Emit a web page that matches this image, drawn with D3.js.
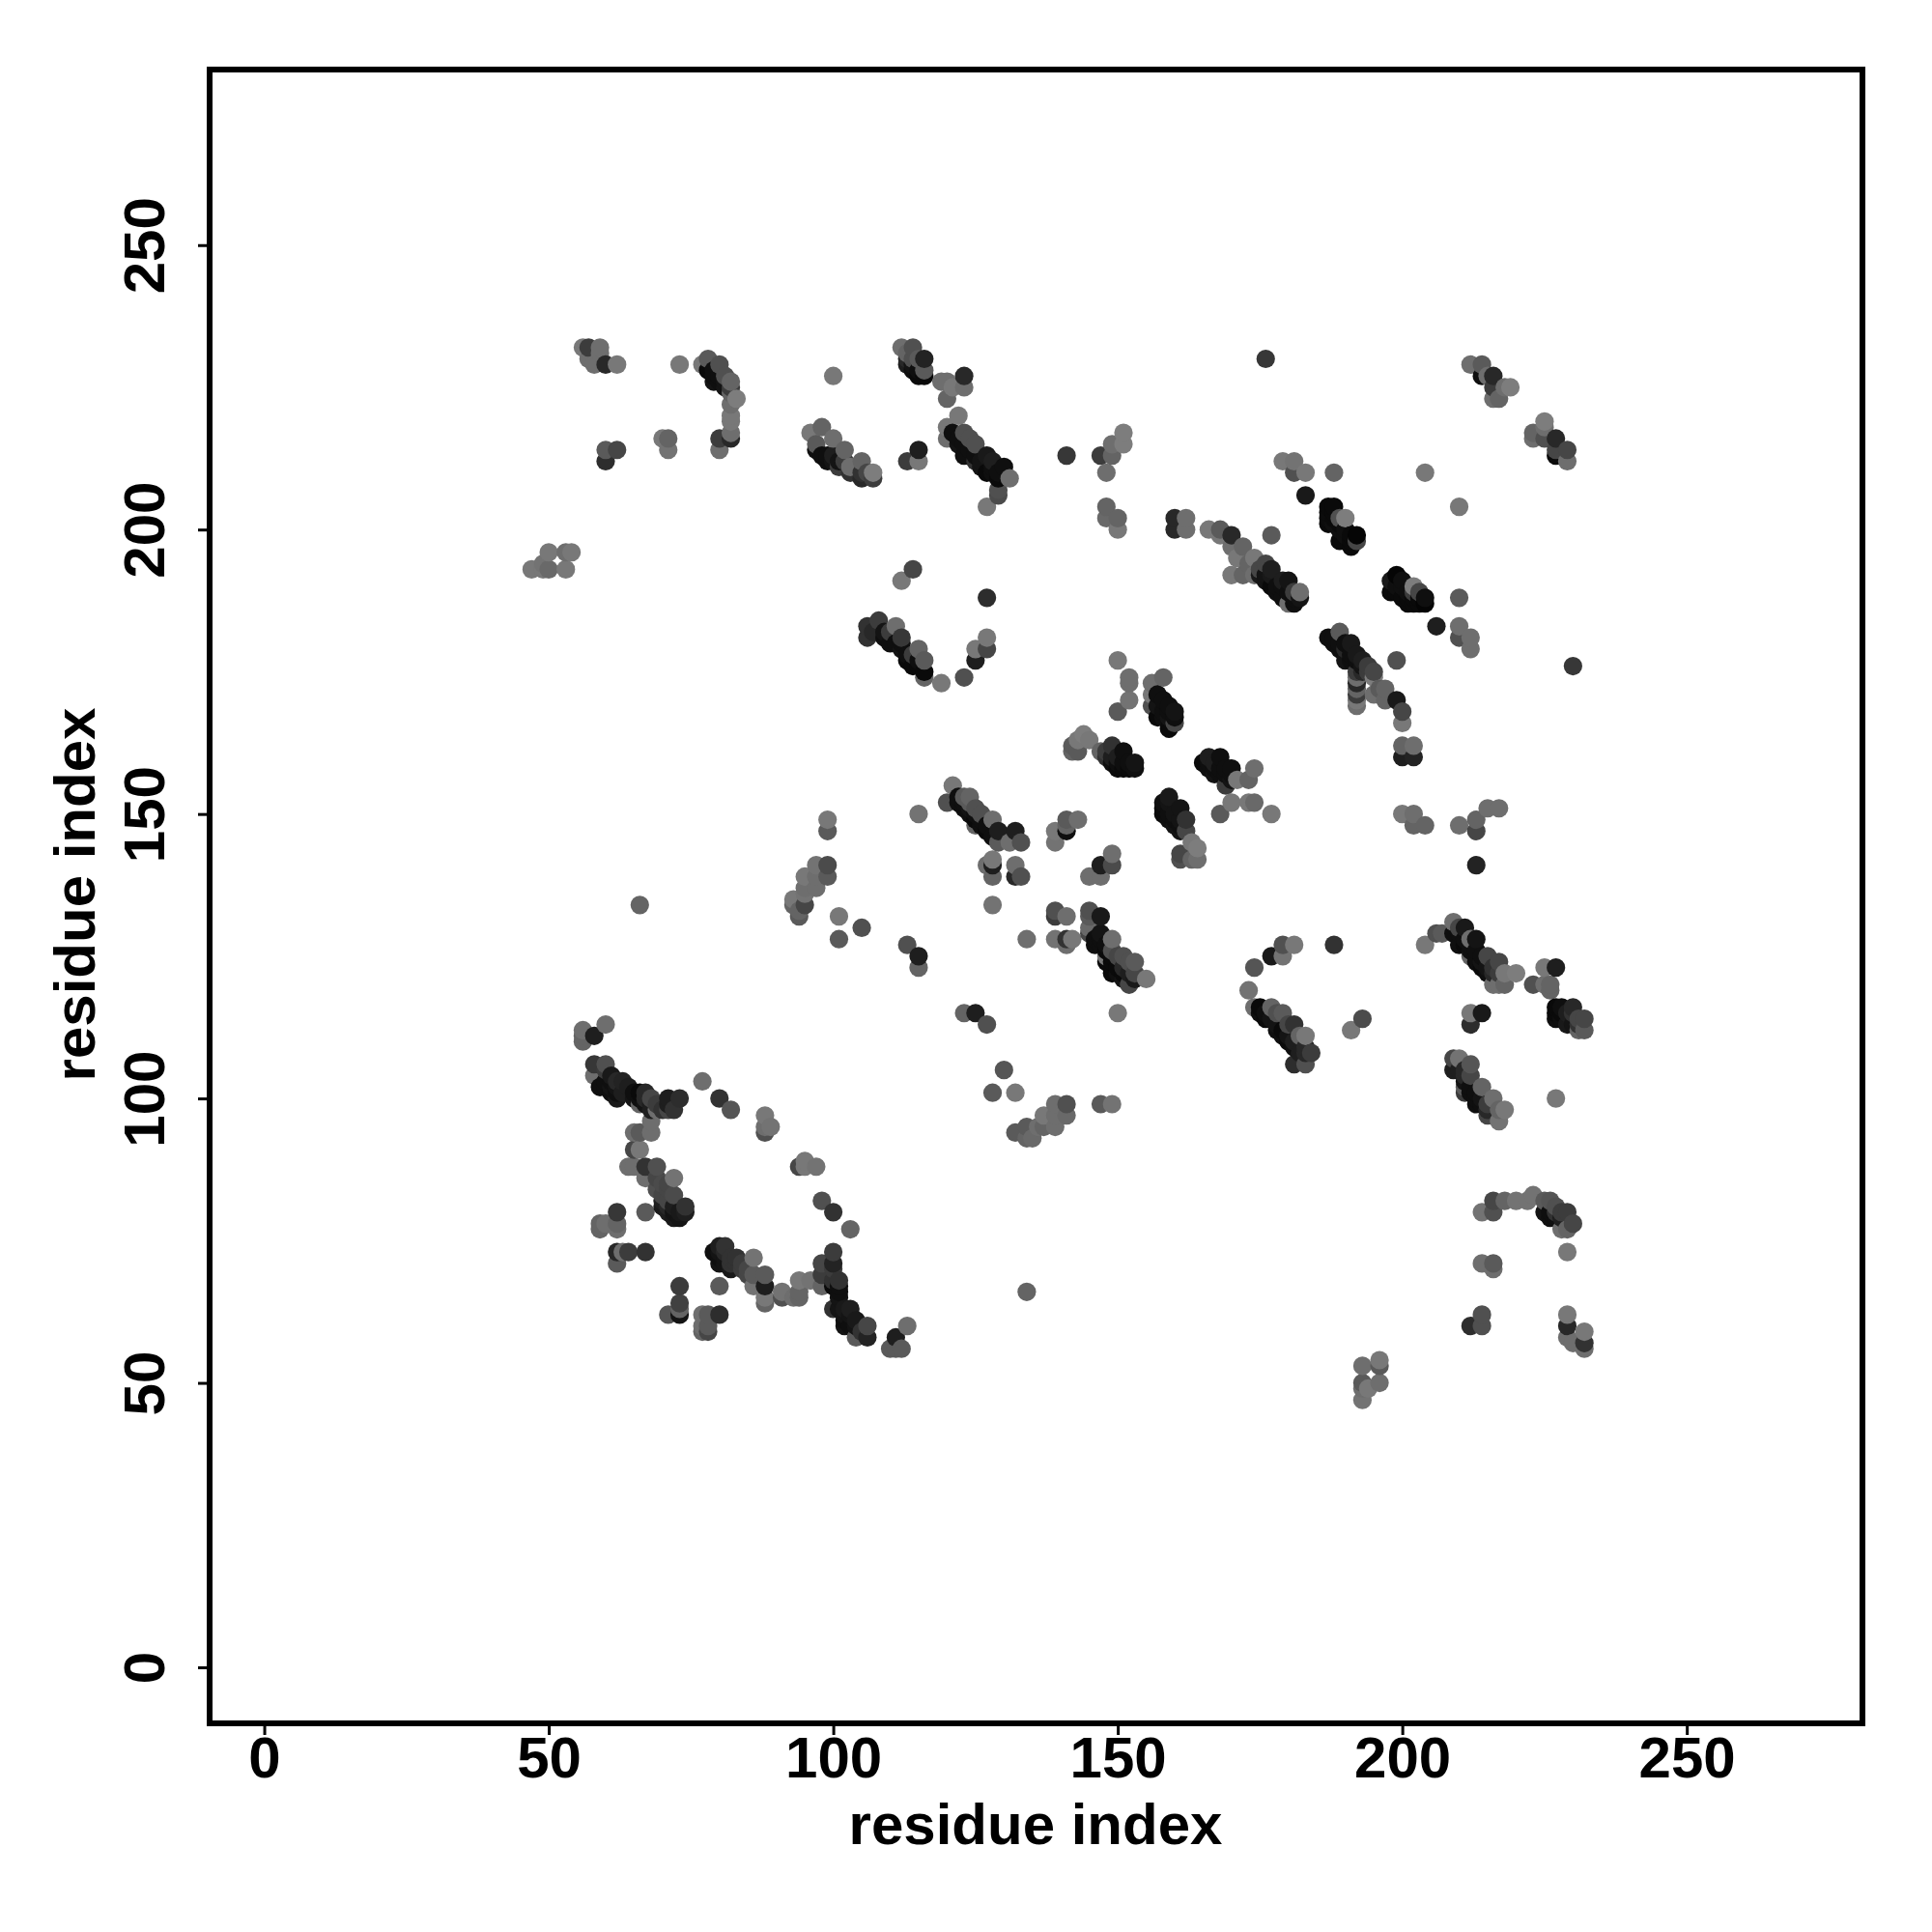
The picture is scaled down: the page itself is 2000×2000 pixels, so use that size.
<!DOCTYPE html>
<html><head><meta charset="utf-8">
<script src="https://cdn.jsdelivr.net/npm/d3@7/dist/d3.min.js"></script>
<style>html,body{margin:0;background:#fff}svg{display:block}</style>
</head><body><svg id="c" width="2000" height="2000"></svg>
<script>
// each contact: [residue i, residue j, grey level]
const tickValues=[0,50,100,150,200,250];
const axisLabel="residue index";
const contactsTopLeft=[[56,232,120],[57,232,60],[59,232,110],[59,231,110],[57,230,110],[58,229,110],[60,229,40],[62,229,120],[73,229,120],[77,229,120],[78,230,90],[80,229,80],[78,228,10],[79,227,15],[80,226,15],[79,226,20],[81,225,20],[81,227,80],[82,226,100],[82,224,100],[83,223,125],[82,222,110],[82,220,120],[82,219,120],[82,217,110],[82,216,40],[80,216,60],[80,214,110],[60,214,90],[62,214,70],[60,212,45],[70,216,120],[71,216,100],[71,214,115],[47,193,120],[49,193,120],[49,194,115],[50,193,105],[50,196,120],[53,193,120],[53,196,110],[54,196,120]];
const contactsTopMiddle=[[100,227,120],[96,217,120],[98,218,100],[97,215,90],[100,216,110],[99,213,15],[100,212,20],[102,214,100],[101,211,60],[103,211,110],[105,212,100],[107,210,125],[105,209,40],[107,209,60],[112,232,110],[114,232,80],[113,231,100],[113,229,30],[116,230,35],[115,227,10],[116,227,10],[116,228,90],[119,226,110],[120,226,110],[123,227,40],[123,225,110],[121,225,120],[120,223,100],[122,220,120],[120,218,120],[120,216,110],[123,217,80],[125,215,80],[122,215,20],[123,213,15],[125,212,50],[127,213,25],[130,211,15],[127,210,10],[129,209,10],[131,209,110],[129,207,80],[129,206,75],[127,204,120],[115,214,30],[113,212,60],[115,212,120],[114,193,70],[112,191,120],[127,188,45],[106,183,50],[108,184,60],[106,181,50],[111,183,110],[110,180,15],[112,181,55],[112,179,20],[115,179,100],[114,176,10],[116,177,90],[116,175,10],[116,174,100],[119,173,120],[123,174,80],[125,177,30],[125,179,120],[127,179,70],[127,181,120]];
const contactsTopRight=[[176,230,55],[141,213,55],[147,213,60],[149,213,100],[149,215,110],[151,215,125],[151,217,125],[148,210,110],[148,204,100],[148,202,105],[150,202,100],[150,200,120],[160,202,40],[160,200,40],[162,202,110],[162,200,110],[166,200,120],[168,200,90],[170,199,40],[168,199,120],[172,197,100],[170,197,110],[171,195,120],[174,195,120],[170,192,120],[172,192,100],[174,192,110],[173,194,100],[176,194,70],[177,193,30],[175,192,25],[177,190,10],[180,191,20],[179,188,15],[182,189,110],[181,187,15],[180,187,110],[182,188,20],[177,199,90],[179,212,120],[181,212,115],[181,210,80],[183,210,120],[188,210,100],[183,206,25],[204,210,120],[210,204,120],[187,204,10],[188,204,10],[187,203,12],[187,202,12],[187,201,10],[189,202,80],[190,202,125],[189,198,10],[192,199,5],[191,197,10],[192,198,70],[198,191,25],[199,192,5],[198,189,10],[201,187,10],[202,190,125],[201,189,15],[204,187,5],[204,188,15],[202,187,10],[210,188,90],[206,183,30],[210,183,110],[210,181,80],[212,181,110],[212,179,110],[199,177,80],[230,176,55],[212,229,110],[214,229,90],[214,227,15],[216,227,40],[215,227,110],[216,225,60],[218,225,110],[219,225,125],[216,223,110],[217,223,100],[223,217,100],[225,219,125],[225,218,110],[223,216,110],[227,216,40],[225,216,80],[227,214,70],[229,214,70],[227,213,10],[229,212,110]];
const contactsCentre=[[150,177,120],[152,174,110],[152,173,110],[152,170,115],[150,168,90],[158,174,100],[156,173,110],[156,171,120],[156,169,80],[158,170,15],[160,168,20],[157,167,10],[159,165,10],[160,166,70],[144,164,125],[143,163,120],[142,162,90],[143,161,90],[145,163,120],[142,161,100],[147,161,100],[149,162,50],[151,161,15],[148,160,50],[150,158,10],[153,159,20],[152,158,10],[165,159,10],[166,160,30],[168,160,15],[167,157,20],[170,158,15],[169,155,60],[174,158,110],[171,156,120],[173,156,100],[170,152,120],[173,152,120],[174,152,105],[177,150,120],[168,150,90],[159,153,25],[158,151,10],[161,151,20],[158,150,10],[162,149,50],[160,148,20],[162,147,70],[163,145,120],[161,143,70],[164,144,125],[163,142,100],[164,142,110],[161,142,80],[200,166,120],[200,168,70],[199,170,25],[197,172,100],[200,162,100],[202,162,110],[200,160,30],[202,160,35],[200,150,120],[202,150,110],[202,148,100],[204,148,100],[210,148,110],[213,149,100],[213,147,70],[215,151,110],[217,151,110],[213,141,35],[189,182,90],[187,181,15],[188,180,15],[191,180,25],[190,177,20],[193,177,30],[194,176,60],[195,174,125],[197,170,100],[195,171,110],[192,175,60],[192,174,110],[192,173,40],[192,172,100],[192,171,60],[192,170,120],[192,169,110],[193,176,20]];
const contactsMiddle=[[121,155,120],[120,152,80],[122,153,15],[124,153,100],[123,151,15],[125,151,80],[125,149,10],[128,149,110],[127,147,10],[129,147,30],[132,147,30],[129,145,90],[131,145,110],[133,145,80],[125,148,100],[115,150,115],[99,149,120],[99,147,90],[128,142,120],[127,141,110],[128,141,30],[128,139,100],[132,141,110],[132,139,40],[133,139,80],[128,134,115],[141,149,90],[143,149,110],[139,147,120],[141,147,15],[141,148,100],[139,145,115],[149,143,110],[149,141,75],[147,141,30],[147,139,110],[145,139,110],[97,141,115],[99,141,75],[99,139,90],[97,139,110],[95,139,120],[97,137,110],[95,137,110],[95,136,115],[93,135,120],[93,134,100],[95,134,70],[94,132,90],[94,133,100],[66,134,100],[101,132,120],[105,130,80],[101,128,90],[113,127,80],[115,125,30],[115,123,100],[123,115,100],[125,115,30],[127,113,80],[130,105,85],[128,101,90],[132,101,120],[150,115,120],[134,128,110],[139,133,80],[139,132,60],[141,132,110],[139,128,115],[141,128,50],[142,128,120],[141,127,110],[145,133,80],[145,132,90],[147,132,25],[145,130,105],[145,129,70],[147,129,20],[149,128,110],[147,127,15],[148,125,120],[149,125,10],[151,125,80],[149,122,10],[153,124,90],[151,122,10],[155,121,120],[152,120,70],[153,121,25],[147,99,90],[149,99,115],[141,99,80],[139,99,110],[141,97,105],[139,97,110],[137,97,120],[139,95,110],[137,95,100],[136,95,110],[134,95,90],[132,94,90],[134,93,100],[135,93,105],[134,66,100]];
const contactsRight=[[179,127,80],[181,127,120],[177,125,25],[179,125,115],[174,123,85],[173,119,115],[174,116,110],[175,116,10],[177,116,100],[176,114,10],[179,115,90],[181,113,50],[179,112,10],[180,110,10],[182,111,100],[183,111,120],[183,109,40],[184,108,60],[183,106,80],[181,106,45],[188,127,50],[193,114,75],[191,112,120],[204,127,120],[206,129,80],[207,129,90],[209,131,110],[210,130,70],[211,130,25],[209,129,15],[210,127,15],[213,128,20],[212,128,110],[212,125,100],[213,124,15],[215,125,70],[217,124,70],[214,123,10],[218,122,120],[220,122,125],[216,120,110],[218,120,100],[217,120,110],[225,123,120],[227,123,30],[223,120,80],[225,120,110],[226,120,100],[226,119,100],[227,116,10],[228,116,15],[230,116,40],[229,113,25],[232,114,70],[231,112,100],[232,112,90],[227,114,15],[212,115,120],[214,115,25],[212,113,45],[209,107,70],[210,107,115],[212,106,85],[209,105,30],[211,105,40],[211,102,90],[214,102,100],[212,102,15],[211,101,60],[216,100,110],[213,99,15],[217,98,100],[218,98,120],[215,97,70],[217,96,115],[227,100,120],[214,80,115],[216,80,80],[216,82,70],[218,82,100],[220,82,115],[223,83,115],[222,82,115],[225,82,90],[226,82,85],[227,81,80],[226,79,15],[229,80,60],[230,78,70],[228,77,110],[229,77,100],[229,73,120],[214,71,110],[216,71,90],[216,70,110],[214,62,80],[212,60,45],[214,60,80],[229,62,120],[229,60,40],[229,58,110],[230,57,110],[232,59,120],[232,57,50],[232,56,110],[193,53,110],[196,54,120],[196,53,90],[196,50,110],[193,50,90],[194,49,120],[193,49,110],[193,47,115]];
const contactsBottomLeft=[[56,112,110],[56,111,100],[56,110,100],[58,111,30],[60,113,110],[58,106,55],[60,106,80],[58,104,110],[60,105,60],[61,104,25],[59,102,15],[62,103,40],[63,103,35],[63,101,30],[62,100,25],[61,102,20],[66,101,10],[67,101,40],[68,100,70],[66,99,100],[68,98,30],[69,98,110],[71,100,30],[73,100,45],[71,98,70],[71,99,30],[77,103,110],[80,100,50],[82,98,85],[88,97,120],[88,94,80],[89,95,115],[88,95,110],[68,96,110],[68,94,110],[65,94,110],[66,94,90],[65,91,70],[66,91,120],[64,88,110],[65,88,110],[67,88,50],[69,88,80],[67,86,110],[69,86,70],[72,86,115],[69,84,80],[72,83,75],[70,83,70],[70,82,30],[71,80,30],[73,79,20],[74,81,50],[74,80,30],[72,81,30],[67,80,90],[62,80,55],[59,78,100],[60,78,110],[62,78,100],[59,77,100],[62,77,110],[62,73,40],[63,73,110],[64,73,60],[67,73,50],[62,71,90],[73,67,60],[73,64,65],[73,63,100],[73,62,20],[71,62,85],[77,62,110],[78,62,90],[80,62,45],[77,59,100],[78,59,70],[77,60,110],[78,60,90],[80,67,90],[79,73,15],[80,74,30],[81,74,50],[80,71,20],[82,71,50],[83,72,50],[86,72,115],[84,70,60],[86,69,90],[88,69,90],[86,67,115],[88,67,30],[88,65,120],[88,64,100],[91,66,115],[91,65,80],[93,65,110],[94,65,100],[94,68,120],[96,68,115],[94,66,100],[98,71,70],[100,73,60],[100,71,35],[98,69,60],[101,68,50],[98,67,100],[100,67,10],[101,67,15],[100,70,60],[100,63,50],[101,63,20],[103,63,30],[102,61,15],[104,61,25],[102,60,20],[106,60,70],[104,58,90],[106,58,35],[98,82,80],[100,80,50],[103,77,100],[95,89,120],[94,88,70],[95,88,120],[97,88,115],[113,60,110],[111,58,30],[110,56,90],[112,56,90],[111,56,90]];
const contactsUpperBands=[[79,228,15],[80,227,15],[81,226,20],[82,225,60],[97,214,15],[98,213,15],[99,212,15],[100,213,30],[101,212,20],[102,212,60],[103,210,50],[105,210,50],[106,210,70],[113,230,40],[114,229,20],[114,228,15],[115,228,15],[114,230,80],[115,230,90],[121,217,15],[122,216,15],[123,215,15],[124,214,15],[124,216,80],[125,213,15],[126,212,20],[126,211,20],[128,211,15],[128,210,15],[129,210,15],[128,212,30],[107,182,40],[109,182,20],[109,181,15],[110,182,60],[111,180,15],[112,180,15],[113,178,15],[113,177,10],[114,178,60],[115,177,15],[115,176,10],[175,193,70],[176,192,20],[176,191,20],[177,192,25],[178,190,15],[178,189,15],[179,190,15],[179,191,30],[180,189,15],[181,188,15],[181,189,60],[188,203,10],[188,202,10],[188,201,15],[189,201,10],[189,200,15],[190,200,15],[190,199,15],[191,199,10],[191,198,10],[199,190,15],[199,189,10],[200,191,15],[200,190,15],[200,188,10],[201,188,10],[202,188,10],[203,188,10],[203,187,10],[202,189,60],[203,189,70],[188,181,15],[189,180,15],[189,179,15],[190,180,15],[190,179,40],[191,178,15],[191,177,15],[192,178,25],[192,177,15],[193,175,40],[194,175,60],[195,175,70],[196,172,90]];
const contactsCentreBands=[[157,171,15],[157,169,20],[158,168,15],[158,167,15],[159,168,15],[159,167,20],[159,169,15],[160,167,15],[148,161,60],[149,160,30],[149,159,15],[150,160,30],[150,159,15],[151,159,15],[151,158,10],[152,159,15],[153,158,15],[166,158,15],[166,159,15],[167,158,15],[167,159,30],[168,158,15],[168,157,15],[169,157,15],[169,158,15],[170,156,20],[170,157,15],[158,152,15],[159,152,20],[159,150,15],[159,149,15],[160,150,20],[160,149,15],[161,149,20],[161,148,15],[161,147,20],[122,152,15],[123,152,15],[124,150,15],[124,151,20],[125,150,15],[126,149,15],[126,148,15],[127,148,15],[128,146,15],[126,150,80],[123,153,90],[124,152,90],[146,128,15],[146,127,15],[147,128,15],[148,127,15],[148,126,10],[148,124,10],[149,124,10],[150,123,10],[150,122,15],[151,121,20],[150,125,70],[152,124,80],[152,122,30],[151,123,40],[153,122,70],[149,126,80]];
const contactsLowerBands=[[175,115,15],[176,115,15],[177,114,20],[178,113,20],[178,112,15],[179,111,15],[180,111,20],[181,110,30],[181,109,15],[182,108,30],[183,108,40],[178,115,80],[180,113,70],[210,129,15],[211,128,15],[211,127,10],[212,126,15],[212,127,15],[213,126,15],[213,125,15],[214,125,15],[214,124,20],[215,123,20],[215,122,15],[216,122,40],[216,123,50],[217,122,60],[227,115,10],[228,115,10],[228,114,15],[229,115,30],[230,113,20],[230,115,50],[231,114,70],[231,113,50],[210,105,30],[211,104,40],[211,103,20],[212,104,70],[212,101,15],[213,101,15],[213,100,15],[214,100,20],[214,99,15],[215,99,60],[215,98,40],[225,80,20],[226,80,15],[227,79,15],[228,79,30],[228,80,60],[227,80,50],[60,103,15],[60,102,15],[61,103,15],[61,101,15],[62,101,15],[62,102,20],[64,102,30],[65,101,15],[65,100,20],[66,100,15],[67,99,20],[67,100,40],[68,99,30],[69,99,60],[70,98,50],[72,98,50],[70,81,25],[71,81,40],[71,82,70],[72,80,20],[72,79,25],[73,80,25],[70,85,75],[71,84,70],[71,85,70],[80,72,15],[80,73,20],[81,72,20],[81,71,20],[81,73,40],[82,70,25],[82,72,50],[83,71,50],[84,71,60],[85,70,70],[85,69,70],[101,66,15],[101,65,20],[100,68,50],[102,63,25],[102,62,20],[103,62,20],[103,60,15],[104,60,20],[105,59,50]];

const contacts=[contactsTopLeft,contactsTopMiddle,contactsTopRight,contactsCentre,contactsMiddle,contactsRight,contactsBottomLeft,contactsUpperBands,contactsCentreBands,contactsLowerBands].flat()
  .sort((a,b)=>d3.ascending(a[0],b[0])||d3.ascending(a[1],b[1]));

const L=217,R=1928,T=72,B=1784;
const x=d3.scaleLinear().domain([-9.6,280.87]).range([L,R]);
const y=d3.scaleLinear().domain([-9.849,280.86]).range([B,T]);
const svg=d3.select("#c");
const FONT='"Liberation Sans",Arial,sans-serif';
const SIZE=60;

svg.append("g").selectAll("circle").data(contacts).join("circle")
  .attr("cx",d=>x(d[0])).attr("cy",d=>y(d[1])).attr("r",9.6)
  .attr("fill",d=>d3.rgb(d[2],d[2],d[2]));

svg.append("rect").attr("x",L).attr("y",T).attr("width",R-L).attr("height",B-T)
  .attr("fill","none").attr("stroke","#000").attr("stroke-width",6);

const ax=svg.append("g").attr("transform",`translate(0,${B})`)
  .call(d3.axisBottom(x).tickValues(tickValues).tickSize(12).tickPadding(8));
const ay=svg.append("g").attr("transform",`translate(${L},0)`)
  .call(d3.axisLeft(y).tickValues(tickValues).tickSize(12).tickPadding(8));
[ax,ay].forEach(g=>{g.select(".domain").remove();
  g.selectAll("line").attr("stroke","#000").attr("stroke-width",3);
  g.selectAll("text").attr("font-family",FONT).attr("font-weight","bold").attr("font-size",SIZE).attr("fill","#000");});
ax.selectAll("text").attr("dy",null).attr("y",1840-B).attr("text-anchor","middle");
ay.selectAll("text").attr("dy",null).attr("x",null).attr("y",null)
  .attr("text-anchor","middle").attr("transform",`translate(${170-L},0) rotate(-90)`);

svg.append("text").attr("x",1072).attr("y",1909).attr("text-anchor","middle")
  .attr("font-family",FONT).attr("font-weight","bold").attr("font-size",SIZE).text(axisLabel);
svg.append("text").attr("transform","translate(98,926) rotate(-90)").attr("text-anchor","middle")
  .attr("font-family",FONT).attr("font-weight","bold").attr("font-size",SIZE).text(axisLabel);
</script></body></html>
